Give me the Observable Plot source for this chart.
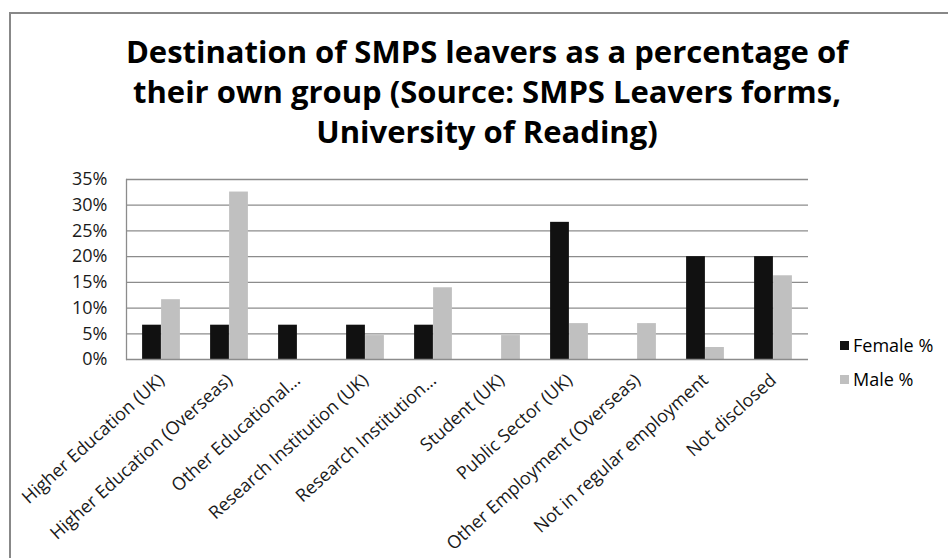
<!DOCTYPE html>
<html>
<head>
<meta charset="utf-8">
<script src="https://cdn.jsdelivr.net/npm/d3@7"></script>
<script src="https://cdn.jsdelivr.net/npm/@observablehq/plot@0.6"></script>
<style>
  html, body { margin: 0; padding: 0; background: #fff; }
  #wrap { position: relative; width: 948px; height: 558px; overflow: hidden; background: #fff; font-family: "Open Sans", sans-serif; }
  #frame { position: absolute; left: 9px; top: 12px; width: 1000px; height: 1000px; border: 2px solid #888; box-sizing: border-box; }
  #title { position: absolute; left: 10px; width: 954px; top: 31px; text-align: center; font-family: "Open Sans", sans-serif; font-weight: 700; font-size: 31px; line-height: 40px; color: #000; }
  #chart { position: absolute; left: 0; top: 160px; }
  #legend { position: absolute; left: 840px; top: 328px; font-family: "Open Sans", sans-serif; font-size: 18px; color: #000; }
  #legend div { height: 34px; display: flex; align-items: center; }
  #legend span.sw { display: inline-block; width: 9px; height: 9px; margin-right: 4px; }
</style>
</head>
<body>
<div id="wrap">
  <div id="frame"></div>
  <div id="title">Destination of SMPS leavers as a percentage of<br>their own group (Source: SMPS Leavers forms,<br>University of Reading)</div>
  <div id="chart"></div>
  <div id="legend"></div>
</div>
<script>
const categories = [
  "Higher Education (UK)",
  "Higher Education (Overseas)",
  "Other Educational…",
  "Research Institution (UK)",
  "Research Institution…",
  "Student (UK)",
  "Public Sector (UK)",
  "Other Employment (Overseas)",
  "Not in regular employment",
  "Not disclosed"
];
const seriesNames = ["Female %", "Male %"];
const femaleValues = [0.0667, 0.0667, 0.0667, 0.0667, 0.0667, 0, 0.2667, 0, 0.20, 0.20];
const maleValues = [0.1163, 0.3256, 0, 0.0465, 0.1395, 0.0465, 0.0698, 0.0698, 0.0233, 0.1628];
const yTicks = [0, 0.05, 0.10, 0.15, 0.20, 0.25, 0.30, 0.35];
const seriesColors = ["#111111", "#c0c0c0"];

const female = categories.map((c, i) => ({category: c, value: femaleValues[i]}));
const male = categories.map((c, i) => ({category: c, value: maleValues[i]}));

const width = 948, height = 398;
const marginLeft = 126, marginRight = 140, marginTop = 19, marginBottom = 199;
const step = (width - marginLeft - marginRight) / categories.length;
const barW = 19;
const half = step / 2;

const chart = Plot.plot({
  width, height, marginLeft, marginRight, marginTop, marginBottom,
  style: {fontFamily: "Open Sans, sans-serif", fontSize: "18px", color: "#1a1a1a", background: "transparent"},
  x: {domain: categories, padding: 0, label: null, axis: null},
  y: {domain: [0, 0.35], label: null, axis: null},
  marks: [
    Plot.ruleY(yTicks.filter(d => d > 0), {stroke: "#8c8c8c", strokeWidth: 1.3}),
    Plot.barY(female, {x: "category", y: "value", fill: seriesColors[0], insetLeft: half - barW, insetRight: half}),
    Plot.barY(male, {x: "category", y: "value", fill: seriesColors[1], insetLeft: half, insetRight: half - barW}),
    Plot.axisY({ticks: yTicks, tickFormat: d3.format(".0%"), label: null, tickSize: 0, tickPadding: 19, fontSize: 18}),
    Plot.axisX({label: null, tickSize: 0, tickPadding: 18, tickRotate: -42, fontSize: 18}),
    Plot.ruleY([0], {stroke: "#8c8c8c", strokeWidth: 1.3}),
    Plot.frame({anchor: "left", stroke: "#8c8c8c", strokeWidth: 1.3})
  ]
});
document.getElementById("chart").appendChild(chart);

const legend = document.getElementById("legend");
seriesNames.forEach((name, i) => {
  const row = document.createElement("div");
  const sw = document.createElement("span");
  sw.className = "sw";
  sw.style.background = seriesColors[i];
  row.appendChild(sw);
  row.appendChild(document.createTextNode(name));
  legend.appendChild(row);
});
</script>
</body>
</html>
